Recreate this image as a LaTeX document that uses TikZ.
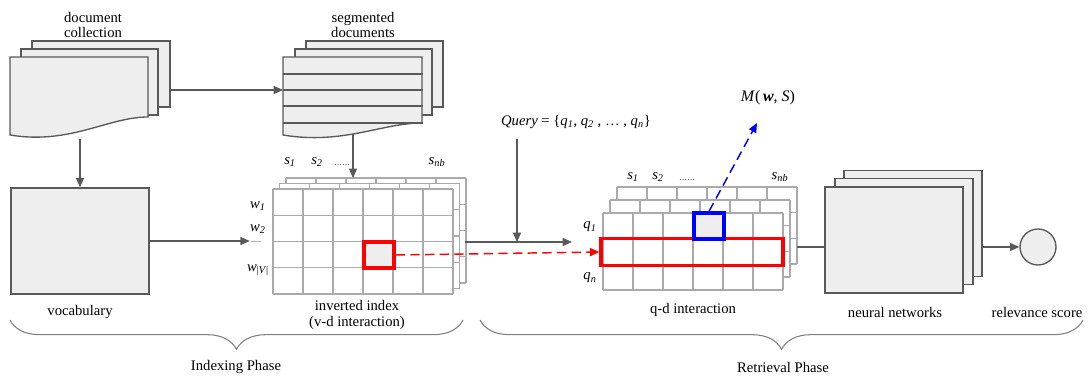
\documentclass[tikz,border=0pt]{standalone}
\usepackage{fontspec}
\setmainfont{Liberation Serif}
\usetikzlibrary{arrows.meta,decorations.pathreplacing}

\definecolor{docgray}{RGB}{89,89,89}
\definecolor{docfill}{RGB}{238,238,238}
\definecolor{gridgray}{RGB}{170,170,170}
\definecolor{hlred}{RGB}{255,0,0}
\definecolor{hlblue}{RGB}{0,0,255}

\newcommand{\isub}[2]{\textit{#1}\textsubscript{\textit{#2}}}
% back sheet of a stack
\newcommand{\sheet}[4]{\draw[sheet] (#1,#2) rectangle (#3,#4);}
% front sheet with wavy bottom: x1 y1 x2 bottom-left bottom-right
\newcommand{\docfront}[5]{\draw[sheet] (#1,#2) -- (#3,#2) -- (#3,#5) .. controls (#3-40,#5) and (#1+60,#4+10) .. (#1,#4) -- cycle;}
% grid of cells: x y cols rows cellw cellh
\newcommand{\cellgrid}[6]{%
  \fill[white] (#1,#2) rectangle (#1+#3*#5,#2+#4*#6);
  \foreach \gc in {0,...,#3} \draw[gridline] (#1+\gc*#5,#2) -- (#1+\gc*#5,#2+#4*#6);
  \foreach \gr in {0,...,#4} \draw[gridline] (#1,#2+\gr*#6) -- (#1+#3*#5,#2+\gr*#6);}

\begin{document}
\begin{tikzpicture}[x=0.75pt,y=0.75pt,yscale=-1,
  font=\fontsize{11}{11.5}\selectfont,
  sheet/.style={draw=docgray,fill=docfill,line width=1pt},
  gridline/.style={draw=gridgray,line width=0.8pt},
  arr/.style={draw=docgray,line width=1pt,-{Triangle[length=7pt,width=6pt]}},
  plain/.style={draw=docgray,line width=1pt},
  reddash/.style={draw=hlred,line width=1.1pt,dash pattern=on 7pt off 4pt,-{Triangle[length=7pt,width=6pt]}},
  bluedash/.style={draw=hlblue,line width=1.1pt,dash pattern=on 7pt off 4pt,-{Triangle[length=7pt,width=6pt]}},
  lbl/.style={inner sep=0.75pt,align=center},
  nnbox/.style={sheet,minimum width=103.5pt,minimum height=79.5pt,inner sep=0pt},
  brace/.style={draw=gray,line width=0.8pt,decorate,decoration={brace,mirror,amplitude=22pt}}]
\useasboundingbox (0,0) rectangle (1088,377);

%document collection
\sheet{32}{41}{170}{107}
\sheet{21}{49}{158}{115}
\docfront{10}{57}{148}{135}{117}
\coordinate (dcE) at (170,90);
\coordinate (dcS) at (80,139);
\node[lbl] (dclbl) at (93,25) {document\\collection};

%segmented documents
\sheet{306}{41}{443}{107}
\sheet{295}{49}{432}{115}
\docfront{283}{57}{422}{135}{123}
\foreach \y in {74,90,106,123} \draw[plain] (283,\y) -- (423,\y);
\coordinate (sdW) at (283,90);
\coordinate (sdS) at (353,134);
\node[lbl] (sdlbl) at (363,25) {segmented\\documents};

%vocabulary
\node[sheet,minimum width=103.5pt,minimum height=79.5pt,inner sep=0pt] (vocab) at (80,241) {};
\node[lbl] (vocablbl) at (80,312) {vocabulary};

%inverted index
\cellgrid{286}{178}{6}{4}{30}{26.25}
\cellgrid{279.5}{183.5}{6}{4}{30}{26.25}
\cellgrid{273}{189}{6}{4}{30}{26.25}
\node[draw=hlred,fill=docfill,line width=2.5pt,minimum width=22.5pt,minimum height=19.5pt,inner sep=0pt] (vdcell) at (379,255) {};
\node[lbl] (vs1) at (290,162) {\isub{s}{1}};
\node[lbl] (vs2) at (317,162) {\isub{s}{2}};
\node[lbl,font=\fontsize{6}{6}\selectfont] (vsdots) at (342,165) {……};
\node[lbl] (vsnb) at (437,162) {\isub{s}{nb}};
\node[lbl] (w1) at (258,206) {\isub{w}{1}};
\node[lbl] (w2) at (258,229) {\isub{w}{2}};
\node[lbl,font=\fontsize{6}{6}\selectfont] (wdots) at (256,242) {.....};
\node[lbl] (wv) at (258,270) {\textit{w}\textsubscript{|\textit{V}|}};
\node[lbl] (iilbl) at (357,315) {inverted index\\(v-d interaction)};
\coordinate (iiN) at (353,178);
\coordinate (iiE) at (465,242);

%query
\node[lbl] (qry) at (576,122) {\textit{Query} = \{\isub{q}{1}, \isub{q}{2} , … , \isub{q}{n}\}};
\coordinate (qtop) at (517,139);
\coordinate (qjoin) at (517,242);
\coordinate (qdW) at (572,242);

%q-d interaction
\cellgrid{617}{187}{6}{3}{30}{25.67}
\cellgrid{610}{200}{6}{3}{30}{25.67}
\cellgrid{603}{213}{6}{3}{30}{25.67}
\node[draw=hlred,line width=2.5pt,minimum width=136.5pt,minimum height=20.25pt,inner sep=0pt] (qrow) at (692,252) {};
\node[draw=hlblue,fill=docfill,line width=2.5pt,minimum width=22.5pt,minimum height=19.5pt,inner sep=0pt] (qcell) at (709,226) {};
\node[lbl] (qs1) at (633,177) {\isub{s}{1}};
\node[lbl] (qs2) at (658,177) {\isub{s}{2}};
\node[lbl,font=\fontsize{6}{6}\selectfont] (qsdots) at (687,180) {……};
\node[lbl] (qsnb) at (780,177) {\isub{s}{nb}};
\node[lbl] (q1) at (590,227) {\isub{q}{1}};
\node[lbl,font=\fontsize{6}{6}\selectfont] (qdots) at (590,253) {....};
\node[lbl] (qn) at (590,278) {\isub{q}{n}};
\node[lbl] (qdlbl) at (693,310) {q-d interaction};
\node[lbl,font=\fontsize{12}{12}\selectfont] (mws) at (768,98) {\textit{M}(\,\textbf{\textit{w}}, \textit{S})};
\coordinate (mtip) at (757,123);
\coordinate (qdE) at (797,247);

%neural networks
\node[nnbox] (nn3) at (913,223.5) {};
\node[nnbox] (nn2) at (904,231.5) {};
\node[nnbox] (nn1) at (894,240) {};
\node[lbl] (nnlbl) at (895,312) {neural networks};
\node[sheet,circle,minimum size=27pt,inner sep=0pt] (score) at (1038,247) {};
\node[lbl] (scorelbl) at (1037,312) {relevance score};

%connectors
\draw[arr] (dcE) -- (sdW);
\draw[arr] (dcS) -- (vocab.north);
\draw[arr] (sdS) -- (iiN);
\draw[arr] (vocab.east) -- (vocab.east -| wdots.west);
\draw[arr] (iiE) -- (qdW);
\draw[arr] (qtop) -- (qjoin);
\draw[reddash] (vdcell.east) -- (qrow.west);
\draw[bluedash] (qcell.north) -- (mtip);
\draw[plain] (qdE) -- (nn1.west |- qdE);
\draw[arr] (nn3.east |- score) -- (score.west);

%phases
\draw[brace] (10,320) -- (463,320);
\node[lbl] (idxlbl) at (236,367) {Indexing Phase};
\draw[brace] (480,320) -- (1083,320);
\node[lbl] (retlbl) at (783,367) {Retrieval Phase};
\end{tikzpicture}
\end{document}
